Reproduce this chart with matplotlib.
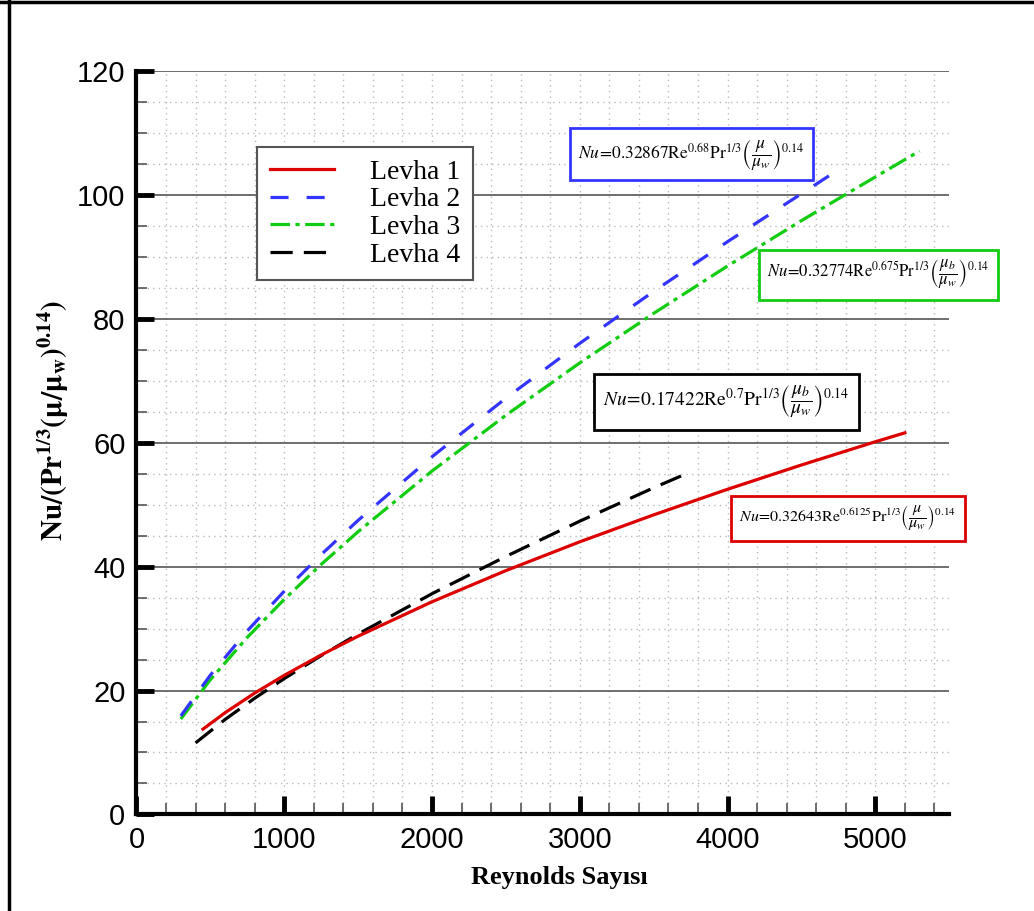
import matplotlib
matplotlib.use("Agg")
import matplotlib.pyplot as plt
from matplotlib.lines import Line2D
from matplotlib.ticker import MultipleLocator

plt.rcParams["mathtext.fontset"] = "stix"
plt.rcParams["lines.scale_dashes"] = False

# values (Reynolds number vs Nu/(Pr^1/3 (mu/mu_w)^0.14))
re_1 = [450, 600, 800, 1000, 1250, 1500, 2000, 2500, 3000, 3500, 4000, 4500, 5000, 5200]
nu_1 = [13.77, 16.43, 19.59, 22.45, 25.74, 28.78, 34.33, 39.36, 44.01, 48.36, 52.49, 56.41, 60.16, 61.6]

re_2 = [300, 500, 750, 1000, 1250, 1500, 2000, 2500, 3000, 3500, 4000, 4500, 4700]
nu_2 = [15.9, 22.49, 29.64, 36.04, 41.95, 47.48, 57.74, 67.2, 76.05, 84.44, 92.46, 100.2, 103.3]

re_3 = [300, 500, 750, 1000, 1250, 1500, 2000, 2500, 3000, 3500, 4000, 4500, 5000, 5300]
nu_3 = [15.4, 21.75, 28.59, 34.72, 40.36, 45.65, 55.43, 64.44, 72.89, 80.89, 88.53, 95.86, 102.91, 107.1]

re_4 = [400, 600, 800, 1000, 1250, 1500, 2000, 2500, 3000, 3500, 3750]
nu_4 = [11.55, 15.34, 18.76, 21.93, 25.64, 29.13, 35.63, 41.65, 47.34, 52.73, 55.3]

labels = ["Levha 1", "Levha 2", "Levha 3", "Levha 4"]
colors = ["#dd0000", "#3434ff", "#11cc11", "#000000"]

equations = [
    r"$\mathit{Nu}\!=\!0.32643\mathrm{Re}^{0.6125}\mathrm{Pr}^{1/3}\left(\dfrac{\mu}{\mu_w}\right)^{0.14}$",
    r"$\mathit{Nu}\!=\!0.32867\mathrm{Re}^{0.68}\mathrm{Pr}^{1/3}\left(\dfrac{\mu}{\mu_w}\right)^{0.14}$",
    r"$\mathit{Nu}\!=\!0.32774\mathrm{Re}^{0.675}\mathrm{Pr}^{1/3}\left(\dfrac{\mu_b}{\mu_w}\right)^{0.14}$",
    r"$\mathit{Nu}\!=\!0.17422\mathrm{Re}^{0.7}\mathrm{Pr}^{1/3}\left(\dfrac{\mu_b}{\mu_w}\right)^{0.14}$",
]

fig = plt.figure(figsize=(10.34, 9.11), dpi=100)
ax = fig.add_axes([0.132, 0.106, 0.786, 0.816])

lw = 2.3
ax.plot(re_1, nu_1, color=colors[0], lw=lw, label=labels[0], zorder=5)
ax.plot(re_2, nu_2, color=colors[1], lw=lw, dashes=(13, 13), label=labels[1], zorder=4)
ax.plot(re_3, nu_3, color=colors[2], lw=lw, dashes=(14, 4, 3, 4), label=labels[2], zorder=3)
ax.plot(re_4, nu_4, color=colors[3], lw=lw, dashes=(16, 8), label=labels[3], zorder=4)

ax.set_xlim(0, 5500)
ax.set_ylim(0, 120)
ax.xaxis.set_major_locator(MultipleLocator(1000))
ax.xaxis.set_minor_locator(MultipleLocator(200))
ax.yaxis.set_major_locator(MultipleLocator(20))
ax.yaxis.set_minor_locator(MultipleLocator(5))

ax.grid(True, which="major", axis="y", color="#555555", lw=1.2, zorder=0)
ax.grid(True, which="minor", axis="y", color="#bbbbbb", lw=1, ls=(0, (1, 3)), zorder=0)
ax.grid(True, which="both", axis="x", color="#bbbbbb", lw=1, ls=(0, (1, 3)), zorder=0)

for s in ["top", "right"]:
    ax.spines[s].set_visible(False)
for s in ["left", "bottom"]:
    ax.spines[s].set_linewidth(3)

ax.tick_params(which="major", direction="in", length=13, width=3.5,
               labelsize=21, pad=8)
ax.tick_params(which="minor", direction="in", length=8, width=1.2, color="#555555")
for t in ax.get_xticklabels() + ax.get_yticklabels():
    t.set_fontfamily("Liberation Sans")

ax.set_xlabel("Reynolds Sayısı", family="Liberation Serif", fontweight="bold",
              fontsize=19, labelpad=12)
ax.xaxis.set_label_coords(0.52, -0.07)
ax.set_ylabel(r"$\mathbf{Nu/(Pr}^{\mathbf{1/3}}\mathbf{(\mu/\mu_w)}^{\mathbf{0.14}}\mathbf{)}$",
              fontsize=21)
ax.yaxis.set_label_coords(-0.08, 0.53)

leg = ax.legend(loc="upper left", bbox_to_anchor=(0.249, 0.839),
                bbox_transform=fig.transFigure, borderaxespad=0,
                prop={"family": "Liberation Serif", "size": 20},
                handlelength=2.3, handletextpad=1.3, labelspacing=0.08,
                borderpad=0.45, fancybox=False, framealpha=1,
                edgecolor="#555555")
leg.get_frame().set_linewidth(1.5)

# equation boxes: (x, y) in data units of box left edge / vertical center
eq_pos = [(4080, 47.8), (2990, 106.6), (4270, 87.1), (3160, 66.6)]
eq_size = [11.5, 12.5, 12, 14]
for eq, (ex, ey), c, fs in zip(equations, eq_pos, colors, eq_size):
    ax.text(ex, ey, eq, fontsize=fs, ha="left", va="center", clip_on=False,
            zorder=6, bbox=dict(boxstyle="square,pad=0.5", fc="white",
                                ec=c, lw=2))

# outer frame lines (left and top edges)
fig.add_artist(Line2D([0.009, 0.009], [0, 1], color="black", lw=2.5,
                      transform=fig.transFigure))
fig.add_artist(Line2D([0, 1], [0.998, 0.998], color="black", lw=2.5,
                      transform=fig.transFigure))

fig.savefig("out.png", dpi=100)
